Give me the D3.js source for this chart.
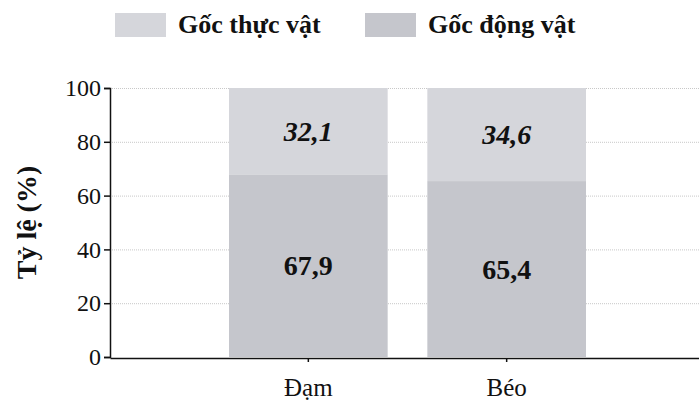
<!DOCTYPE html>
<html>
<head>
	<meta charset="utf-8">
	<script src="https://cdnjs.cloudflare.com/ajax/libs/d3/7.8.5/d3.min.js"></script>
	<style>
		body { margin: 0; background: #fff; }
		.grid line { stroke: #c8c8c8; stroke-dasharray: 1,1; }
		.grid .domain { display: none; }
	</style>
</head>
<body>
	<svg width="699" height="405" id="chart"></svg>
	<script>
	//chart data
	var categories = ["Đạm", "Béo"];
	var seriesNames = ["Gốc động vật", "Gốc thực vật"];
	var dongVat = [67.9, 65.4];
	var thucVat = [32.1, 34.6];
	var yTicks = [0, 20, 40, 60, 80, 100];
	var colors = { "Gốc động vật": "#c5c6cc", "Gốc thực vật": "#d5d6db" };

	var serif = "'Liberation Serif', 'Times New Roman', Times, serif";
	var svg = d3.select("svg");
	var plotLeft = 110, plotRight = 705, plotTop = 88, plotBottom = 357;

	//scales
	var x = d3.scaleBand().domain(categories).range([plotLeft, plotRight])
		.paddingInner(0.2).paddingOuter(0.6);
	var y = d3.scaleLinear().domain([0, 100]).range([plotBottom, plotTop]);

	//gridlines
	svg.append("g")
		.attr("class", "grid")
		.attr("transform", "translate(" + plotLeft + ",0)")
		.call(d3.axisRight(y).tickValues(yTicks.slice(1)).tickSize(699 - plotLeft).tickFormat(""));

	//stacked bars
	var rows = categories.map(function(c, i) {
		return { cat: c, "Gốc động vật": dongVat[i], "Gốc thực vật": thucVat[i] };
	});
	var stack = d3.stack().keys(seriesNames)(rows);

	var layer = svg.selectAll(".layer")
		.data(stack)
		.enter().append("g")
		.attr("class", "layer")
		.attr("fill", function(d) { return colors[d.key]; });

	layer.selectAll("rect")
		.data(function(d) { return d; })
		.enter().append("rect")
		.attr("x", function(d) { return x(d.data.cat); })
		.attr("width", x.bandwidth())
		.attr("y", function(d) { return y(d[1]); })
		.attr("height", function(d) { return y(d[0]) - y(d[1]); });

	//value labels
	layer.selectAll("text")
		.data(function(d) { return d.map(function(p) { p.key = d.key; return p; }); })
		.enter().append("text")
		.attr("x", function(d) { return x(d.data.cat) + x.bandwidth() / 2; })
		.attr("y", function(d) { return y((d[0] + d[1]) / 2); })
		.attr("dy", "0.35em")
		.attr("text-anchor", "middle")
		.attr("fill", "#111")
		.style("font-family", serif)
		.style("font-size", "28px")
		.style("font-weight", "bold")
		.style("font-style", function(d) { return d.key === "Gốc thực vật" ? "italic" : "normal"; })
		.text(function(d) { return String(d.data[d.key]).replace(".", ","); });

	//y axis
	var yAxis = svg.append("g")
		.attr("transform", "translate(" + plotLeft + ",0)")
		.call(d3.axisLeft(y).tickValues(yTicks).tickSize(6).tickPadding(3));
	yAxis.selectAll("text").style("font-family", serif).style("font-size", "24px").attr("fill", "#111");
	yAxis.selectAll("line, path").attr("stroke", "#111").attr("stroke-width", 1.5);

	//x axis
	var xAxis = svg.append("g")
		.attr("transform", "translate(0," + (plotBottom + 1) + ")")
		.call(d3.axisBottom(x).tickSize(4).tickSizeOuter(0).tickPadding(16));
	xAxis.selectAll("text").style("font-family", serif).style("font-size", "25px").attr("fill", "#111");
	xAxis.selectAll("line, path").attr("stroke", "#111").attr("stroke-width", 1.5);

	//y axis title
	svg.append("text")
		.attr("transform", "translate(36," + ((plotTop + plotBottom) / 2) + ") rotate(-90)")
		.attr("text-anchor", "middle")
		.style("font-family", serif)
		.style("font-size", "28px")
		.style("font-weight", "bold")
		.attr("fill", "#111")
		.text("Tỷ lệ (%)");

	//legend
	var legendItems = [
		{ name: "Gốc thực vật", x: 115 },
		{ name: "Gốc động vật", x: 365 }
	];
	var legend = svg.selectAll(".legend")
		.data(legendItems)
		.enter().append("g")
		.attr("class", "legend")
		.attr("transform", function(d) { return "translate(" + d.x + ",13)"; });
	legend.append("rect")
		.attr("width", 51)
		.attr("height", 24)
		.attr("fill", function(d) { return colors[d.name]; });
	legend.append("text")
		.attr("x", 63)
		.attr("y", 20)
		.style("font-family", serif)
		.style("font-size", "26px")
		.style("font-weight", "bold")
		.attr("fill", "#111")
		.text(function(d) { return d.name; });
	</script>
</body>
</html>
